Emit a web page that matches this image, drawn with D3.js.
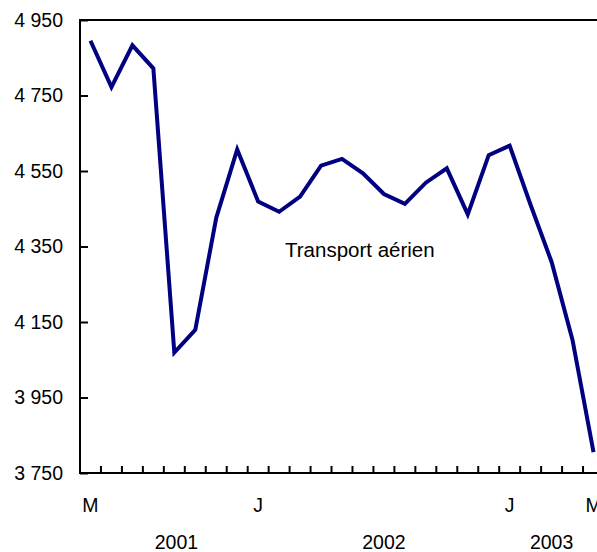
<!DOCTYPE html>
<html>
<head>
<meta charset="utf-8">
<script src="https://cdn.jsdelivr.net/npm/d3@7"></script>
<style>
  html, body { margin: 0; padding: 0; background: #fff; }
  svg { display: block; font-family: "Liberation Sans", Arial, sans-serif; }
</style>
</head>
<body>
<div id="chart"></div>
<script>
// monthly values, May 2001 to May 2003
var months = ["M","J","J","A","S","O","N","D","J","F","M","A","M","J","J","A","S","O","N","D","J","F","M","A","M"];
var monthTicks = ["M","","","","","","","","J","","","","","","","","","","","","J","","","","M"];
var values = [4895, 4772, 4883, 4822, 4069, 4129, 4426, 4607, 4469, 4442, 4482, 4564, 4582,
              4544, 4489, 4463, 4519, 4557, 4435, 4592, 4617, 4460, 4309, 4102, 3805];
var years = ["2001", "2002", "2003"];
var yearAt = [4.1, 14, 22]; // category index under which each year is centred
var yTicks = [3750, 3950, 4150, 4350, 4550, 4750, 4950];
var seriesName = "Transport aérien";

var width = 597, height = 552;
var margin = {top: 20, right: -7, bottom: 79, left: 80};
var innerW = width - margin.left - margin.right,
    innerH = height - margin.top - margin.bottom;

var svg = d3.select("#chart").append("svg")
    .attr("width", width)
    .attr("height", height);

var g = svg.append("g")
    .attr("transform", "translate(" + margin.left + "," + margin.top + ")");

var x = d3.scaleBand()
    .domain(d3.range(months.length))
    .range([0, innerW])
    .padding(0);

var y = d3.scaleLinear()
    .domain([3750, 4950])
    .range([innerH, 0]);

var fontSize = 19.5;

//------------------------------------------------------------
// frame: top line, left axis, bottom axis

g.append("line")
  .attr("x1", 0).attr("x2", innerW)
  .attr("y1", 0).attr("y2", 0)
  .attr("stroke", "#000").attr("stroke-width", 2);

var yAxis = g.append("g")
  .call(d3.axisLeft(y).tickValues(yTicks).tickSize(-8).tickPadding(17)
    .tickFormat(function(d) { return d3.format(",")(d).replace(",", " "); }));
yAxis.select(".domain").remove();
yAxis.selectAll(".tick line").attr("stroke", "#000").attr("stroke-width", 2);
yAxis.selectAll(".tick text")
  .attr("fill", "#000")
  .style("font-size", fontSize + "px")
  .style("font-family", "Liberation Sans, Arial, sans-serif");

g.append("line")
  .attr("x1", 0).attr("x2", 0)
  .attr("y1", -1).attr("y2", innerH + 1)
  .attr("stroke", "#000").attr("stroke-width", 2);

g.append("line")
  .attr("x1", 0).attr("x2", innerW)
  .attr("y1", innerH).attr("y2", innerH)
  .attr("stroke", "#000").attr("stroke-width", 2);

// x ticks sit on band boundaries
g.selectAll(".xtick")
  .data(d3.range(1, months.length + 1))
  .enter().append("line")
  .attr("class", "xtick")
  .attr("x1", function(i) { return i * x.step(); })
  .attr("x2", function(i) { return i * x.step(); })
  .attr("y1", innerH)
  .attr("y2", innerH - 7)
  .attr("stroke", "#000").attr("stroke-width", 2);

g.selectAll(".xlabel")
  .data(monthTicks)
  .enter().append("text")
  .attr("class", "xlabel")
  .attr("x", function(d, i) { return x(i) + x.bandwidth() / 2; })
  .attr("y", innerH + 39)
  .attr("text-anchor", "middle")
  .style("font-size", fontSize + "px")
  .text(function(d) { return d; });

g.selectAll(".year")
  .data(years)
  .enter().append("text")
  .attr("class", "year")
  .attr("x", function(d, i) { return x.step() * (yearAt[i] + 0.5); })
  .attr("y", innerH + 76)
  .attr("text-anchor", "middle")
  .style("font-size", fontSize + "px")
  .text(function(d) { return d; });

//------------------------------------------------------------
// series line

var line = d3.line()
  .x(function(d, i) { return x(i) + x.bandwidth() / 2; })
  .y(function(d) { return y(d); });

g.append("path")
  .datum(values)
  .attr("fill", "none")
  .attr("stroke", "#000080")
  .attr("stroke-width", 4)
  .attr("stroke-linejoin", "miter")
  .attr("d", line);

g.append("text")
  .attr("x", 205)
  .attr("y", 237)
  .style("font-size", "20.5px")
  .text(seriesName);
</script>
</body>
</html>
